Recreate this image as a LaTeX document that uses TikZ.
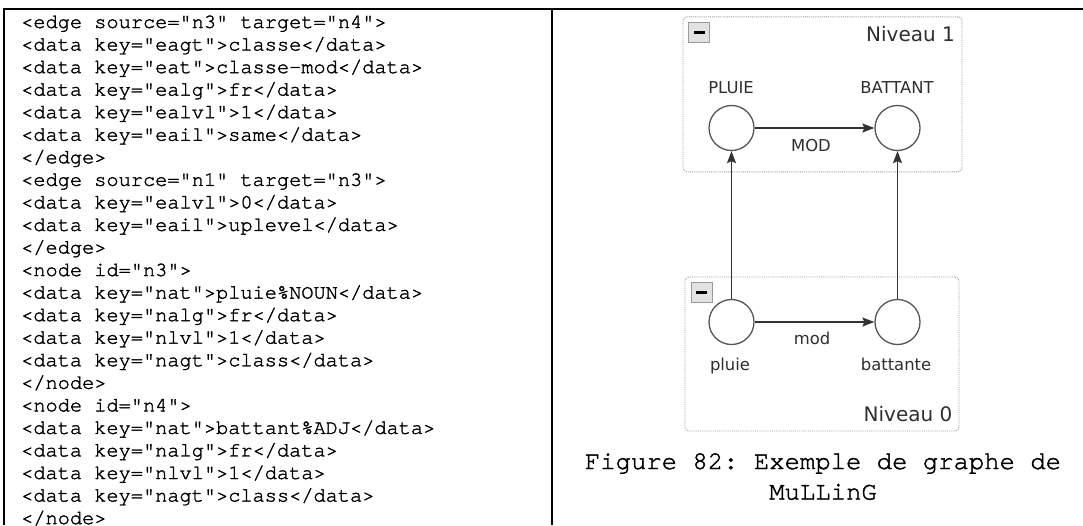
\documentclass[tikz,border=0pt]{standalone}
\usepackage{fontspec}
\setmainfont{DejaVu Sans}
\newfontfamily\courierfnt{texgyrecursor-regular.otf}[FakeBold=1.6]
\frenchspacing
\usetikzlibrary{arrows.meta}
\definecolor{edgec}{HTML}{333333}
\definecolor{vtxc}{HTML}{555555}
\definecolor{boxc}{HTML}{9A9A9A}
\definecolor{txtc}{HTML}{2E2E2E}
\definecolor{btnfill}{HTML}{E2E2E2}
\tikzset{
  codeline/.style={anchor=base west, inner sep=0pt, font=\courierfnt\fontsize{20.3}{22}\selectfont},
  capline/.style={anchor=base, inner sep=0pt, font=\courierfnt\fontsize{25.6}{30}\selectfont},
  rule/.style={line width=2pt, black},
  levelbox/.style={draw=boxc, line width=0.9pt, densely dotted, rounded corners=4pt, inner sep=0pt},
  vertex/.style={circle, draw=vtxc, fill=white, line width=1.3pt, minimum size=45pt, inner sep=0pt},
  lbl/.style={inner sep=0pt, anchor=base, text=txtc, font=\fontsize{16.4}{18}\selectfont},
  lvltext/.style={inner sep=0pt, anchor=east, text=txtc, font=\fontsize{20}{22}\selectfont},
  edgeline/.style={draw=edgec, line width=1.5pt, -{Stealth[length=12pt,width=9pt,inset=2pt]}},
  minusbtn/.style={draw=boxc, fill=btnfill, line width=0.8pt, minimum width=21pt, minimum height=20pt, inner sep=0pt,
    path picture={\fill[black] ([xshift=-5.5pt,yshift=-1.4pt]path picture bounding box.center) rectangle ([xshift=5.5pt,yshift=1.4pt]path picture bounding box.center);}}
}
\begin{document}
\begin{tikzpicture}[x=1pt,y=-1pt]
\useasboundingbox (0,0) rectangle (1083,525);
% table rules
\coordinate (tl) at (4,8.5);
\coordinate (tr) at (1083,8.5);
\coordinate (bl) at (4,525);
\coordinate (dt) at (552,8.5);
\coordinate (db) at (552,525);
\draw[rule] ([xshift=-1pt]tl) -- (tr);
\draw[rule] (tl) -- (bl);
\draw[rule] (dt) -- (db);
% code lines
\node[codeline] (c1)  at (21,28.00)  {<edge source="n3" target="n4">};
\node[codeline] (c2)  at (21,50.55)  {<data key="eagt">classe</data>};
\node[codeline] (c3)  at (21,73.10)  {<data key="eat">classe-mod</data>};
\node[codeline] (c4)  at (21,95.65)  {<data key="ealg">fr</data>};
\node[codeline] (c5)  at (21,118.20) {<data key="ealvl">1</data>};
\node[codeline] (c6)  at (21,140.75) {<data key="eail">same</data>};
\node[codeline] (c7)  at (21,163.30) {</edge>};
\node[codeline] (c8)  at (21,185.85) {<edge source="n1" target="n3">};
\node[codeline] (c9)  at (21,208.40) {<data key="ealvl">0</data>};
\node[codeline] (c10) at (21,230.95) {<data key="eail">uplevel</data>};
\node[codeline] (c11) at (21,253.50) {</edge>};
\node[codeline] (c12) at (21,276.05) {<node id="n3">};
\node[codeline] (c13) at (21,298.60) {<data key="nat">pluie\%NOUN</data>};
\node[codeline] (c14) at (21,321.15) {<data key="nalg">fr</data>};
\node[codeline] (c15) at (21,343.70) {<data key="nlvl">1</data>};
\node[codeline] (c16) at (21,366.25) {<data key="nagt">class</data>};
\node[codeline] (c17) at (21,388.80) {</node>};
\node[codeline] (c18) at (21,411.35) {<node id="n4">};
\node[codeline] (c19) at (21,433.90) {<data key="nat">battant\%ADJ</data>};
\node[codeline] (c20) at (21,456.45) {<data key="nalg">fr</data>};
\node[codeline] (c21) at (21,479.00) {<data key="nlvl">1</data>};
\node[codeline] (c22) at (21,501.55) {<data key="nagt">class</data>};
\node[codeline] (c23) at (21,524.10) {</node>};
% level boxes
\node[levelbox, minimum width=279pt, minimum height=155pt] (L1) at (822.5,94.3) {};
\node[levelbox, minimum width=274pt, minimum height=154pt] (L0) at (822,354) {};
\node[minusbtn] (m1) at (699,32.2) {};
\node[minusbtn] (m0) at (701.5,292.7) {};
\node[lvltext] (n1) at (955,34.3) {Niveau 1};
\node[lvltext] (n0) at (952.5,414.3) {Niveau 0};
% vertices
\node[vertex] (P1) at (731.5,128) {};
\node[vertex] (B1) at (897.5,128) {};
\node[vertex] (P0) at (731.5,322) {};
\node[vertex] (B0) at (897.5,322) {};
% labels
\node[lbl] (lP1) at (731,93) {PLUIE};
\node[lbl] (lB1) at (897,93) {BATTANT};
\node[lbl] (lP0) at (730,370) {pluie};
\node[lbl] (lB0) at (896,370) {battante};
\node[lbl] (e1) at (811,151) {MOD};
\node[lbl] (e0) at (812,344.5) {mod};
% edges
\draw[edgeline] (P1) -- (B1);
\draw[edgeline] (P0) -- (B0);
\draw[edgeline] (P0) -- (P1);
\draw[edgeline] (B0) -- (B1);
% caption
\node[capline] (cap1) at (823,469) {Figure 82: Exemple de graphe de};
\node[capline] (cap2) at (823,499.5) {MuLLinG};
\end{tikzpicture}
\end{document}
